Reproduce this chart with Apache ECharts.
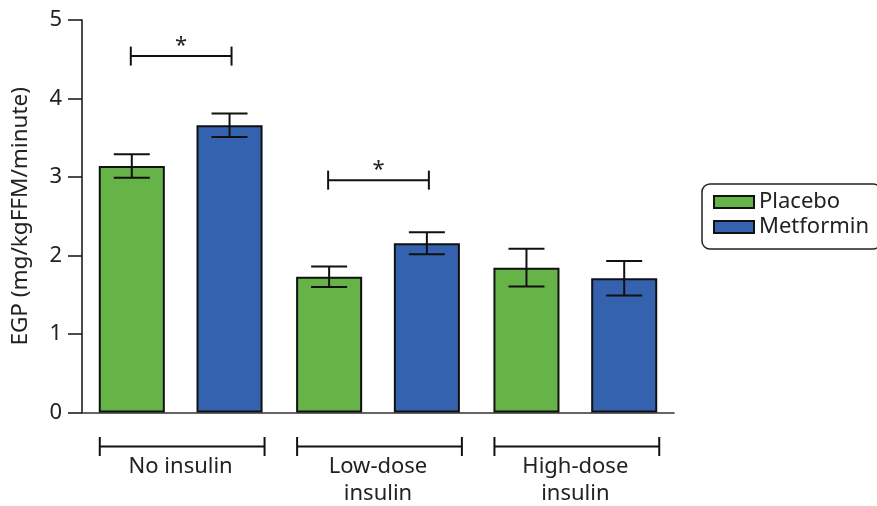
<!DOCTYPE html>
<html>
<head>
<meta charset="utf-8">
<script src="https://cdn.jsdelivr.net/npm/echarts@6/dist/echarts.min.js"></script>
<style>
html,body{margin:0;padding:0;background:#fff;}
#main{width:877px;height:506px;}
</style>
</head>
<body>
<div id="main"></div>
<script>
// ---- data ----
var categories = ['No insulin', 'Low-dose\ninsulin', 'High-dose\ninsulin'];
var seriesNames = ['Placebo', 'Metformin'];
var placeboMean = [3.14, 1.73, 1.845];
var placeboErr = [0.15, 0.13, 0.24];
var metforminMean = [3.66, 2.155, 1.71];
var metforminErr = [0.15, 0.14, 0.22];
var sigBrackets = [[0, 4.54], [1, 2.96]]; // [category index, bracket height]
var yTicks = [0, 1, 2, 3, 4, 5];

var BAR_GAP = 0.48, CAT_GAP = 0.17, NSER = 2;
var FONT = '"Noto Sans", "Open Sans", sans-serif';

function barGeom(api) {
  var bw = api.size([1, 0])[0];
  var barW = bw * (1 - CAT_GAP) / (NSER + (NSER - 1) * BAR_GAP);
  return { bw: bw, barW: barW, off: barW * (1 + BAR_GAP) / 2 };
}

function errData(mean, err) {
  return mean.map(function (m, i) { return [i, m - err[i], m + err[i]]; });
}

function errRender(sign) {
  return function (params, api) {
    var g = barGeom(api);
    var i = api.value(0);
    var lo = api.coord([i, api.value(1)]);
    var hi = api.coord([i, api.value(2)]);
    var x = lo[0] + sign * g.off;
    var hw = 18;
    var st = { stroke: '#111', lineWidth: 2, fill: null };
    return {
      type: 'group',
      children: [
        { type: 'line', shape: { x1: x, y1: lo[1], x2: x, y2: hi[1] }, style: st },
        { type: 'line', shape: { x1: x - hw, y1: lo[1], x2: x + hw, y2: lo[1] }, style: st },
        { type: 'line', shape: { x1: x - hw, y1: hi[1], x2: x + hw, y2: hi[1] }, style: st }
      ]
    };
  };
}

var chart = echarts.init(document.getElementById('main'), null, { renderer: 'canvas' });

var option = {
  animation: false,
  backgroundColor: '#fff',
  textStyle: { fontFamily: FONT },
  grid: { left: 82, right: 203, top: 20, bottom: 93.5, containLabel: false, outerBoundsMode: 'none' },
  legend: {
    orient: 'vertical',
    left: 702,
    top: 184,
    padding: [6, 12, 10, 11],
    borderColor: '#222',
    borderWidth: 1.5,
    borderRadius: 8,
    itemWidth: 40,
    itemHeight: 12,
    itemGap: 1,
    icon: 'rect',
    data: seriesNames,
    textStyle: { fontSize: 22, lineHeight: 24, color: '#222', fontFamily: FONT }
  },
  xAxis: {
    type: 'category',
    data: categories,
    axisLine: { lineStyle: { color: '#333', width: 1.5 } },
    axisTick: { show: false },
    axisLabel: { fontSize: 22, lineHeight: 27, color: '#222', margin: 41, fontFamily: FONT, interval: 0 },
    splitLine: { show: false }
  },
  yAxis: {
    type: 'value',
    min: yTicks[0],
    max: yTicks[yTicks.length - 1],
    interval: 1,
    name: 'EGP (mg/kgFFM/minute)',
    nameLocation: 'middle',
    nameGap: 50,
    nameRotate: 90,
    nameTextStyle: { fontSize: 22.5, color: '#222', fontFamily: FONT },
    axisLine: { show: true, lineStyle: { color: '#111', width: 1.5 } },
    axisTick: { show: true, length: 14, lineStyle: { color: '#111', width: 1.5 } },
    axisLabel: { fontSize: 22, color: '#222', margin: 20, fontFamily: FONT },
    splitLine: { show: false }
  },
  series: [
    {
      name: seriesNames[0], type: 'bar', data: placeboMean,
      barGap: (BAR_GAP * 100) + '%', barCategoryGap: (CAT_GAP * 100) + '%',
      itemStyle: { color: '#66b347', borderColor: '#111', borderWidth: 2 },
      z: 2
    },
    {
      name: seriesNames[1], type: 'bar', data: metforminMean,
      barGap: (BAR_GAP * 100) + '%', barCategoryGap: (CAT_GAP * 100) + '%',
      itemStyle: { color: '#3462ae', borderColor: '#111', borderWidth: 2 },
      z: 2
    },
    {
      type: 'custom', name: 'errP', data: errData(placeboMean, placeboErr),
      renderItem: errRender(-1), encode: { x: 0, y: [1, 2] }, z: 5, silent: true, clip: false
    },
    {
      type: 'custom', name: 'errM', data: errData(metforminMean, metforminErr),
      renderItem: errRender(1), encode: { x: 0, y: [1, 2] }, z: 5, silent: true, clip: false
    },
    {
      type: 'custom', name: 'sig', data: sigBrackets,
      encode: { x: 0, y: 1 }, z: 5, silent: true, clip: false,
      renderItem: function (params, api) {
        var g = barGeom(api);
        var p = api.coord([api.value(0), api.value(1)]);
        var x1 = p[0] - g.off - 1, x2 = p[0] + g.off + 2, y = p[1];
        var st = { stroke: '#111', lineWidth: 2, fill: null };
        return {
          type: 'group',
          children: [
            { type: 'line', shape: { x1: x1, y1: y, x2: x2, y2: y }, style: st },
            { type: 'line', shape: { x1: x1, y1: y - 9.5, x2: x1, y2: y + 9.5 }, style: st },
            { type: 'line', shape: { x1: x2, y1: y - 9.5, x2: x2, y2: y + 9.5 }, style: st },
            { type: 'text', style: { text: '*', x: (x1 + x2) / 2, y: y + 1, align: 'center', verticalAlign: 'bottom', fontSize: 22, fontFamily: FONT, fill: '#222' } }
          ]
        };
      }
    },
    {
      type: 'custom', name: 'groups', data: categories.map(function (c, i) { return [i, 0]; }),
      encode: { x: 0, y: 1 }, z: 5, silent: true, clip: false,
      renderItem: function (params, api) {
        var g = barGeom(api);
        var p = api.coord([api.value(0), 0]);
        var half = g.barW + g.barW * BAR_GAP / 2;
        var x1 = p[0] - half + 1, x2 = p[0] + half + 2, y = p[1] + 34;
        var st = { stroke: '#111', lineWidth: 2, fill: null };
        return {
          type: 'group',
          children: [
            { type: 'line', shape: { x1: x1, y1: y, x2: x2, y2: y }, style: st },
            { type: 'line', shape: { x1: x1, y1: y - 9.5, x2: x1, y2: y + 9.5 }, style: st },
            { type: 'line', shape: { x1: x2, y1: y - 9.5, x2: x2, y2: y + 9.5 }, style: st }
          ]
        };
      }
    }
  ]
};
chart.setOption(option);
</script>
</body>
</html>
